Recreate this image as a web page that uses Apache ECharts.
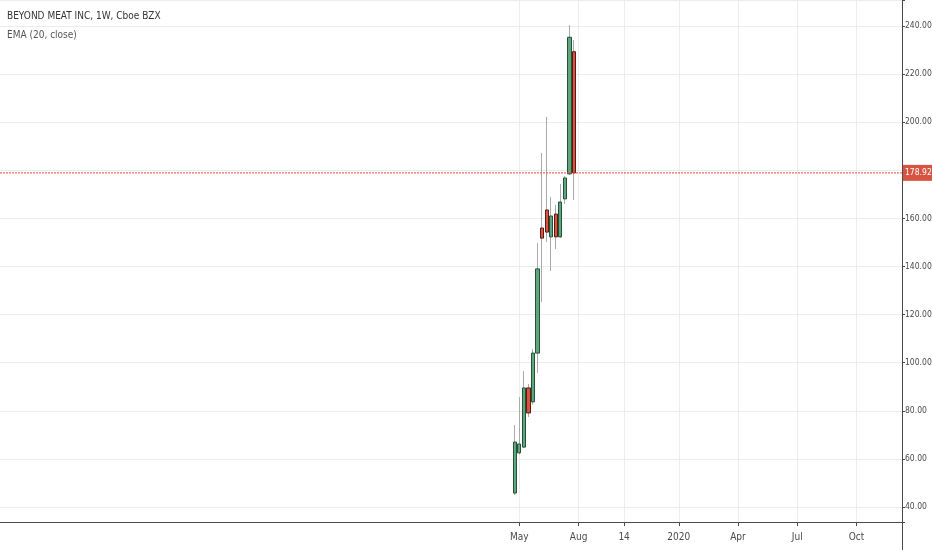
<!DOCTYPE html>
<html>
<head>
<meta charset="utf-8">
<script src="https://cdn.jsdelivr.net/npm/echarts@6/dist/echarts.min.js"></script>
<style>
  html, body { margin: 0; padding: 0; background: #fff; }
  #chart { width: 932px; height: 550px; }
</style>
</head>
<body>
<div id="chart"></div>
<script>
// weekly candles, BYND from IPO week
const candleDates = ['2019-04-29', '2019-05-06', '2019-05-13', '2019-05-20', '2019-05-27', '2019-06-03', '2019-06-10',
  '2019-06-17', '2019-06-24', '2019-07-01', '2019-07-08', '2019-07-15', '2019-07-22', '2019-07-29'];
const opens = [45.8, 62.5, 64.9, 89.5, 83.7, 104.0, 156.0, 163.5, 152.3, 161.8, 152.3, 168.1, 178.5, 229.3];
const closes = [67.0, 66.2, 89.5, 79.1, 104.0, 139.0, 151.8, 154.3, 161.0, 152.3, 166.8, 176.8, 235.3, 178.92];
const lows = [45.0, 61.8, 64.5, 77.4, 82.5, 95.7, 125.2, 150.2, 138.1, 147.3, 151.8, 166.0, 178.0, 167.6];
const highs = [74.1, 85.7, 96.5, 91.1, 105.7, 149.8, 187.2, 202.2, 168.9, 165.6, 174.3, 177.6, 240.4, 234.2];
const lastPrice = 178.92;

// x axis labels (week of)
const tickDates = ['2019-05-06', '2019-08-05', '2019-10-14', '2020-01-06', '2020-04-06', '2020-07-06', '2020-10-05'];
const tickNames = ['May', 'Aug', '14', '2020', 'Apr', 'Jul', 'Oct'];

// visible weeks on the time scale
const firstWeek = Date.UTC(2017, 1, 27);
const weekCount = 199;
const weeks = [];
for (let i = 0; i < weekCount; i++) {
  weeks.push(new Date(firstWeek + i * 7 * 864e5).toISOString().slice(0, 10));
}

const wickData = weeks.map(d => {
  const k = candleDates.indexOf(d);
  return k < 0 ? '-' : [opens[k], closes[k], lows[k], highs[k]];
});
const bodyData = weeks.map(d => {
  const k = candleDates.indexOf(d);
  return k < 0 ? '-' : [opens[k], closes[k], Math.min(opens[k], closes[k]), Math.max(opens[k], closes[k])];
});

const isTick = (i, v) => tickDates.indexOf(v) >= 0;
const font = '"Liberation Sans Narrow", "DejaVu Sans Condensed", sans-serif';
const axisColor = '#4a4a4a';
const gridColor = '#ececec';
const priceRed = '#e5493a';

const chart = echarts.init(document.getElementById('chart'));
chart.setOption({
  animation: false,
  backgroundColor: '#fff',
  textStyle: { fontFamily: font },
  title: {
    text: 'BEYOND MEAT INC, 1W, Cboe BZX',
    subtext: 'EMA (20, close)',
    left: 2,
    top: 6,
    itemGap: 9,
    textStyle: { fontFamily: font, fontSize: 10, fontWeight: 'normal', color: '#333' },
    subtextStyle: { fontFamily: font, fontSize: 10, color: '#555' }
  },
  grid: { left: 0, right: 30, top: 0, bottom: 28, containLabel: false, outerBoundsMode: 'none' },
  xAxis: {
    type: 'category',
    data: weeks,
    boundaryGap: false,
    axisLine: { lineStyle: { color: axisColor, width: 1 } },
    axisTick: { interval: isTick, length: 4, lineStyle: { color: axisColor } },
    axisLabel: {
      interval: isTick,
      formatter: v => tickNames[tickDates.indexOf(v)],
      color: axisColor,
      fontSize: 10,
      margin: 10
    },
    splitLine: { show: true, interval: isTick, lineStyle: { color: gridColor } }
  },
  yAxis: {
    type: 'value',
    position: 'right',
    min: 33.76,
    max: 250.8,
    splitNumber: 10,
    axisLine: { show: true, lineStyle: { color: axisColor, width: 1 } },
    axisTick: { show: true, length: 3, lineStyle: { color: axisColor } },
    axisLabel: {
      color: axisColor,
      fontSize: 8.5,
      margin: 3,
      formatter: v => (Math.abs(v / 20 - Math.round(v / 20)) < 1e-6 ? v.toFixed(2) : '')
    },
    splitLine: { show: true, lineStyle: { color: gridColor } }
  },
  graphic: [
    {
      type: 'line',
      shape: { x1: 902.5, y1: 522, x2: 902.5, y2: 550 },
      style: { stroke: axisColor, lineWidth: 1 }
    }
  ],
  series: [
    {
      name: 'wicks',
      type: 'candlestick',
      data: wickData,
      barWidth: 1,
      itemStyle: { color: '#aaaaaa', color0: '#aaaaaa', borderColor: '#aaaaaa', borderColor0: '#aaaaaa', borderWidth: 1 }
    },
    {
      name: 'BYND',
      type: 'candlestick',
      data: bodyData,
      barWidth: 3.8,
      itemStyle: { color: '#62a47f', color0: '#d75442', borderColor: '#225437', borderColor0: '#5b1a13', borderWidth: 1 }
    },
    {
      // last price line across the whole pane
      name: 'last',
      type: 'line',
      data: [[weeks[0], lastPrice], [weeks[weekCount - 1], lastPrice]],
      symbol: 'none',
      silent: true,
      z: 5,
      itemStyle: { color: priceRed },
      lineStyle: { color: priceRed, type: [2, 1], width: 1 },
      endLabel: {
        show: true,
        distance: 1,
        formatter: lastPrice.toFixed(2),
        color: '#fff',
        backgroundColor: '#d75442',
        padding: [4, 1, 3, 2],
        fontSize: 8.5,
        fontFamily: font
      }
    }
  ]
});
</script>
</body>
</html>
